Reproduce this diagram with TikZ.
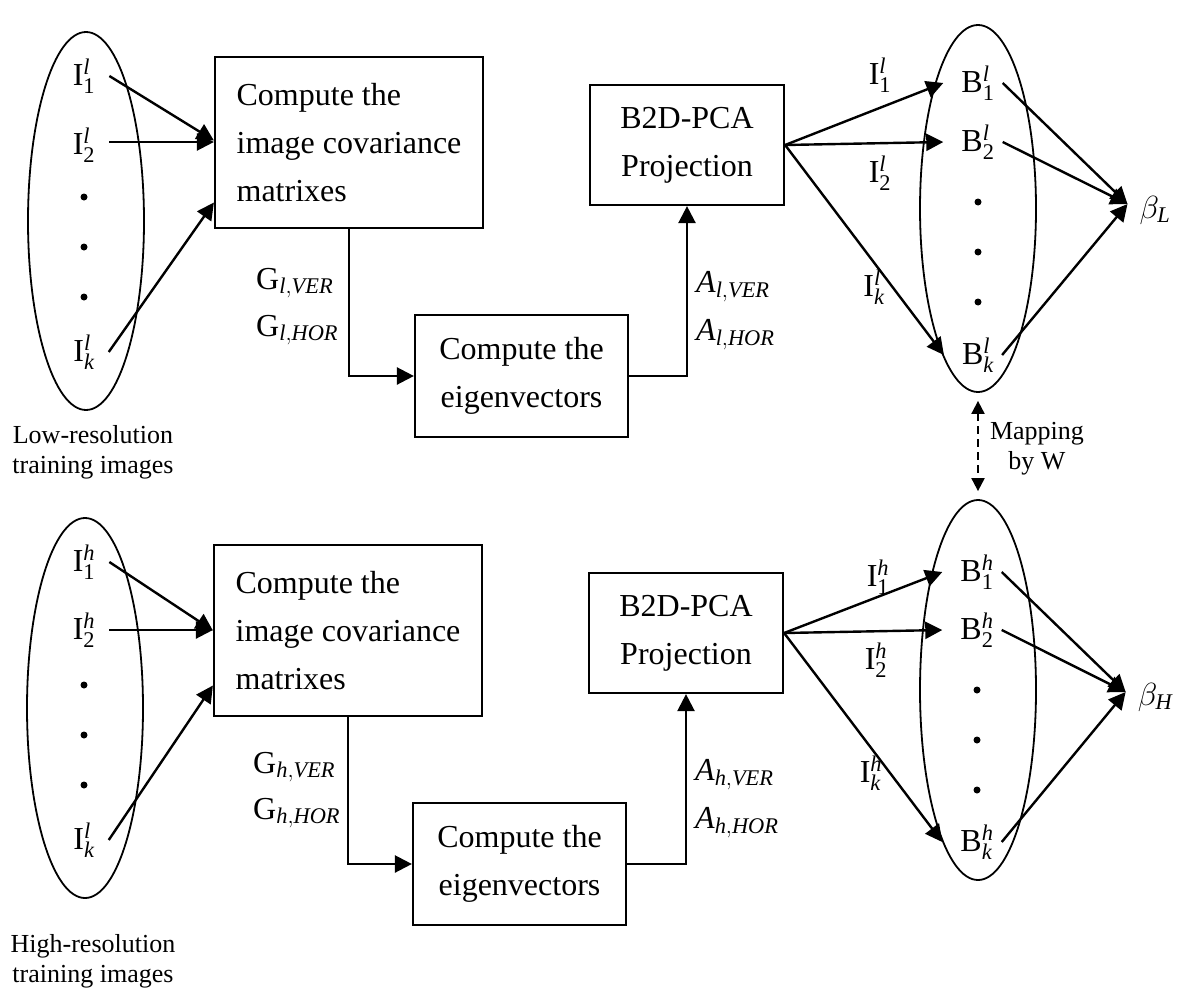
\RequirePackage{fix-cm}
\documentclass[tikz,border=0pt]{standalone}
\usepackage{fontspec}
\setmainfont{Liberation Serif}
\usetikzlibrary{arrows.meta,shapes.geometric}

% symbol with sub- and superscript, set in the text font
\newcommand{\sym}[3]{$\mathrm{#1}^{\mathit{#3}}_{\mathrm{#2}}$}

\tikzset{
	box/.style={draw, line width=2.2pt, align=center, inner sep=0pt},
	grp/.style={draw, ellipse, line width=1.8pt, minimum width=116pt, inner sep=0pt},
	lbl/.style={inner sep=0pt},
	dot/.style={circle, fill, minimum size=7pt, inner sep=0pt},
	arr/.style={line width=2.4pt, -{Triangle[length=17pt,width=17pt]}},
	note/.style={font=\fontsize{26}{30}\selectfont, align=center}
}

\begin{document}
\begin{tikzpicture}[x=1pt, y=-1pt, font=\fontsize{32}{48}\selectfont]
	\useasboundingbox (0,0) rectangle (1182,990);
	% low resolution
	\node[grp, minimum height=378pt] (setL) at (86,221) {};
	\node[lbl] (i1L) at (84,76) {\sym{I}{1}{l}};
	\node[lbl] (i2L) at (84,145) {\sym{I}{2}{l}};
	\node[dot] (d1L) at (84,197) {};
	\node[dot] (d2L) at (84,247) {};
	\node[dot] (d3L) at (84,297) {};
	\node[lbl] (ikL) at (84,352) {$\mathrm{I}^{\mathit{l}}_{\mathit{k}}$};
	\node[note] (lowtxt) at (93,452) {Low-resolution\\training images};
	\node[box, align=left, minimum width=268pt, minimum height=171pt] (covL) at (349,142.5) {Compute the\\image covariance\\matrixes};
	\node[box, minimum width=213pt, minimum height=122pt] (eigL) at (521.5,376) {Compute the\\eigenvectors};
	\node[box, minimum width=194pt, minimum height=120pt] (projL) at (687,145) {B2D-PCA\\Projection};
	\node[lbl, anchor=west] (gvL) at (256,283) {$\mathrm{G}_{\mathit{l,VER}}$};
	\node[lbl, anchor=west] (ghL) at (256,330) {$\mathrm{G}_{\mathit{l,HOR}}$};
	\node[lbl, anchor=west] (avL) at (696,287) {$\mathit{A}_{\mathit{l,VER}}$};
	\node[lbl, anchor=west] (ahL) at (696,335) {$\mathit{A}_{\mathit{l,HOR}}$};
	\node[grp, minimum height=367pt] (setBL) at (978,208.5) {};
	\node[lbl] (b1L) at (978,83) {\sym{B}{1}{l}};
	\node[lbl] (b2L) at (978,142) {\sym{B}{2}{l}};
	\node[dot] (e1L) at (978,202) {};
	\node[dot] (e2L) at (978,252) {};
	\node[dot] (e3L) at (978,302) {};
	\node[lbl] (bkL) at (978,355) {$\mathrm{B}^{\mathit{l}}_{\mathit{k}}$};
	\node[lbl] (betaL) at (1155,210) {$\beta_{\mathit{L}}$};
	\node[lbl] (fi1L) at (880,75) {\sym{I}{1}{l}};
	\node[lbl] (fi2L) at (880,173) {\sym{I}{2}{l}};
	\node[lbl] (fikL) at (874,287) {$\mathrm{I}^{\mathit{l}}_{\mathit{k}}$};
	\draw[arr] ([xshift=14pt]i1L.east) -- ([yshift=2pt]covL.west);
	\draw[arr] ([xshift=14pt,yshift=3pt]i2L.east) -- ([yshift=3pt]i2L.east -| covL.west);
	\draw[arr] ([xshift=14pt]ikL.east) -- ([yshift=-60pt]covL.west);
	\draw[arr] (covL.south) |- (eigL.west);
	\draw[arr] (eigL.east) -| (projL.south);
	\draw[arr] (projL.east) -- ([xshift=-18pt]b1L.west);
	\draw[arr] (projL.east) -- ([xshift=-18pt]b2L.west);
	\draw[arr] (projL.east) -- ([xshift=-18pt]bkL.west);
	\draw[arr] ([xshift=8pt]b1L.east) -- ([xshift=-12pt,yshift=6pt]betaL.west);
	\draw[arr] ([xshift=8pt]b2L.east) -- ([xshift=-12pt,yshift=6pt]betaL.west);
	\draw[arr] ([xshift=8pt]bkL.east) -- ([xshift=-12pt,yshift=6pt]betaL.west);
	% high resolution
	\node[grp, minimum height=380pt] (setH) at (85,708) {};
	\node[lbl] (i1H) at (84,562) {\sym{I}{1}{h}};
	\node[lbl] (i2H) at (84,630) {\sym{I}{2}{h}};
	\node[dot] (d1H) at (84,685) {};
	\node[dot] (d2H) at (84,735) {};
	\node[dot] (d3H) at (84,785) {};
	\node[lbl] (ikH) at (84,840) {$\mathrm{I}^{\mathit{l}}_{\mathit{k}}$};
	\node[note] (hightxt) at (93,961) {High-resolution\\training images};
	\node[box, align=left, minimum width=268pt, minimum height=171pt] (covH) at (348,630.5) {Compute the\\image covariance\\matrixes};
	\node[box, minimum width=213pt, minimum height=122pt] (eigH) at (519.5,864) {Compute the\\eigenvectors};
	\node[box, minimum width=194pt, minimum height=120pt] (projH) at (686,633) {B2D-PCA\\Projection};
	\node[lbl, anchor=west] (gvH) at (253,767) {$\mathrm{G}_{\mathit{h,VER}}$};
	\node[lbl, anchor=west] (ghH) at (253,813) {$\mathrm{G}_{\mathit{h,HOR}}$};
	\node[lbl, anchor=west] (avH) at (695,775) {$\mathit{A}_{\mathit{h,VER}}$};
	\node[lbl, anchor=west] (ahH) at (695,823) {$\mathit{A}_{\mathit{h,HOR}}$};
	\node[grp, minimum height=380pt] (setBH) at (978,690) {};
	\node[lbl] (b1H) at (977,572) {\sym{B}{1}{h}};
	\node[lbl] (b2H) at (977,630) {\sym{B}{2}{h}};
	\node[dot] (e1H) at (977,690) {};
	\node[dot] (e2H) at (977,740) {};
	\node[dot] (e3H) at (977,790) {};
	\node[lbl] (bkH) at (977,842) {$\mathrm{B}^{\mathit{h}}_{\mathit{k}}$};
	\node[lbl] (betaH) at (1155,697) {$\beta_{\mathit{H}}$};
	\node[lbl] (fi1H) at (878,577) {\sym{I}{1}{h}};
	\node[lbl] (fi2H) at (876,660) {\sym{I}{2}{h}};
	\node[lbl] (fikH) at (871,773) {$\mathrm{I}^{\mathit{h}}_{\mathit{k}}$};
	\draw[arr] ([xshift=14pt]i1H.east) -- ([yshift=0pt]covH.west);
	\draw[arr] ([xshift=14pt]i2H.east) -- (i2H.east -| covH.west);
	\draw[arr] ([xshift=14pt]ikH.east) -- ([yshift=-55pt]covH.west);
	\draw[arr] (covH.south) |- (eigH.west);
	\draw[arr] (eigH.east) -| (projH.south);
	\draw[arr] (projH.east) -- ([xshift=-18pt]b1H.west);
	\draw[arr] (projH.east) -- ([xshift=-18pt]b2H.west);
	\draw[arr] (projH.east) -- ([xshift=-18pt]bkH.west);
	\draw[arr] ([xshift=8pt]b1H.east) -- ([xshift=-12pt,yshift=5pt]betaH.west);
	\draw[arr] ([xshift=8pt]b2H.east) -- ([xshift=-12pt,yshift=5pt]betaH.west);
	\draw[arr] ([xshift=8pt]bkH.east) -- ([xshift=-12pt,yshift=5pt]betaH.west);
	% mapping between the two sets
	\draw[line width=2pt, dash pattern=on 8pt off 5pt, {Triangle[length=13pt,width=13pt]}-{Triangle[length=13pt,width=13pt]}] ([yshift=-8pt]setBL.south) -- ([yshift=8pt]setBH.north);
	\node[note] (map) at (1037,449) {Mapping\\by W};
\end{tikzpicture}
\end{document}
